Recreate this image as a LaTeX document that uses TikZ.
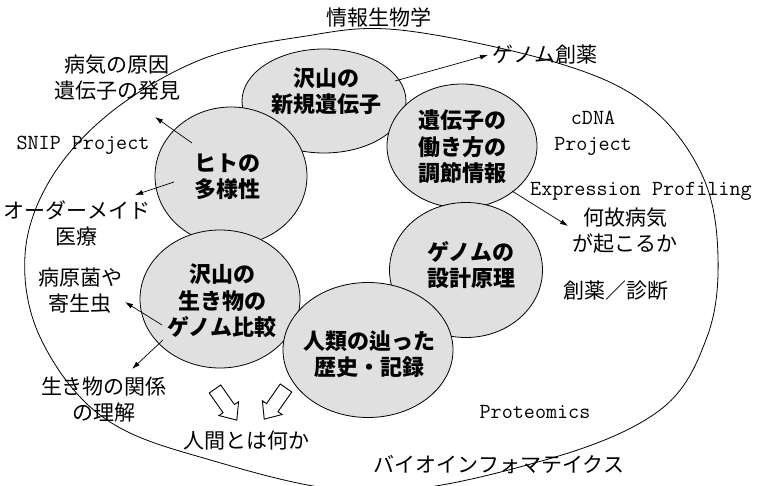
\documentclass[tikz,border=0pt]{standalone}
\usepackage{fontspec}
\newfontfamily\jp{Noto Sans CJK JP}
\usetikzlibrary{shapes.geometric,arrows.meta}
\begin{document}
\begin{tikzpicture}[x=1pt,y=-1pt,
  blob/.style={ellipse, draw, line width=0.8pt, fill=black!12, inner sep=0pt},
  blobtext/.style={font=\jp\bfseries\fontsize{22}{26.5}\selectfont, align=center, inner sep=0pt},
  lbl/.style={font=\jp\fontsize{21}{26}\selectfont, align=center, inner sep=0pt},
  lat/.style={font=\ttfamily\fontsize{21.5}{26}\selectfont, align=center, inner sep=0pt},
  conn/.style={line width=0.7pt, -{Latex[length=8pt,width=5pt]}},
  blockarrow/.style={draw, line width=0.9pt, fill=white, line join=miter}
]
\useasboundingbox (0,0) rectangle (758,486);

% outer boundary
\draw[line width=0.8pt] plot[smooth cycle, tension=0.6] coordinates {
  (400,30) (561,64) (650,107) (703,177) (718,257) (707,337) (660,410)
  (545,460) (370,492) (200,457) (100,415) (40,337) (25,255) (50,180)
  (110,113) (200,60) (300,37)};

% circles
\node[blob, minimum width=164pt, minimum height=104pt] (c1) at (324,101) {};
\node[blob, minimum width=150pt, minimum height=124pt] (c2) at (462,146) {};
\node[blob, minimum width=152pt, minimum height=138pt] (c3) at (231,176) {};
\node[blob, minimum width=153pt, minimum height=135pt] (c4) at (466,270) {};
\node[blob, minimum width=160pt, minimum height=138pt] (c5) at (220,299) {};
\node[blob, minimum width=170pt, minimum height=135pt] (c6) at (368,350) {};

% circle texts
\node[blobtext] (t1) at (326,91) {沢山の\\新規遺伝子};
\node[blobtext] (t2) at (462,147) {遺伝子の\\働き方の\\調節情報};
\node[blobtext] (t3) at (227,177) {ヒトの\\多様性};
\node[blobtext] (t4) at (471,265) {ゲノムの\\設計原理};
\node[blobtext] (t5) at (222,301) {沢山の\\生き物の\\ゲノム比較};
\node[blobtext] (t6) at (369,354) {人類の辿った\\歴史・記録};

% outside labels
\node[lbl] (title) at (379,17) {情報生物学};
\node[lbl] (cause) at (117,78) {病気の原因\\遺伝子の発見};
\node[lat] (snip) at (83,145) {SNIP Project};
\node[lbl] (order) at (77,223) {オーダーメイド\\医療};
\node[lbl] (path) at (80,291) {病原菌や\\寄生虫};
\node[lbl] (rel) at (104,400) {生き物の関係\\の理解};
\node[lbl] (human) at (246,441) {人間とは何か};
\node[lbl] (drug) at (545,55) {ゲノム創薬};
\node[lat] (cdna) at (593,133) {cDNA\\Project};
\node[lat, anchor=west] (expr) at (530,191) {Expression Profiling};
\node[lbl] (why) at (625,231) {何故病気\\が起こるか};
\node[lbl] (diag) at (616,291) {創薬／診断};
\node[lat] (prot) at (535,412) {Proteomics};
\node[lbl] (bioinf) at (499,465) {バイオインフォマテイクス};

% connectors
\coordinate (a1s) at (192,143); \coordinate (a1e) at (155,117);
\coordinate (a2s) at (174,182); \coordinate (a2e) at (135,195);
\coordinate (a3s) at (395,81);  \coordinate (a3e) at (488,55);
\coordinate (a4s) at (512,191); \coordinate (a4e) at (568,226);
\coordinate (a5s) at (162,325); \coordinate (a5e) at (125,302);
\coordinate (a6s) at (163,340); \coordinate (a6e) at (132,369);
\draw[conn] (a1s) -- (a1e);
\draw[conn] (a2s) -- (a2e);
\draw[conn] (a3s) -- (a3e);
\draw[conn] (a4s) -- (a4e);
\draw[conn] (a5s) -- (a5e);
\draw[conn] (a6s) -- (a6e);

% hollow block arrows
\begin{scope}[shift={(215,389)}, rotate=-55]
  \draw[blockarrow] (0,-7) -- (24,-7) -- (24,-12) -- (38,0) -- (24,12) -- (24,7) -- (0,7) -- cycle;
\end{scope}
\begin{scope}[shift={(286,388)}, rotate=-125]
  \draw[blockarrow] (0,-7) -- (24,-7) -- (24,-12) -- (38,0) -- (24,12) -- (24,7) -- (0,7) -- cycle;
\end{scope}
\end{tikzpicture}
\end{document}
